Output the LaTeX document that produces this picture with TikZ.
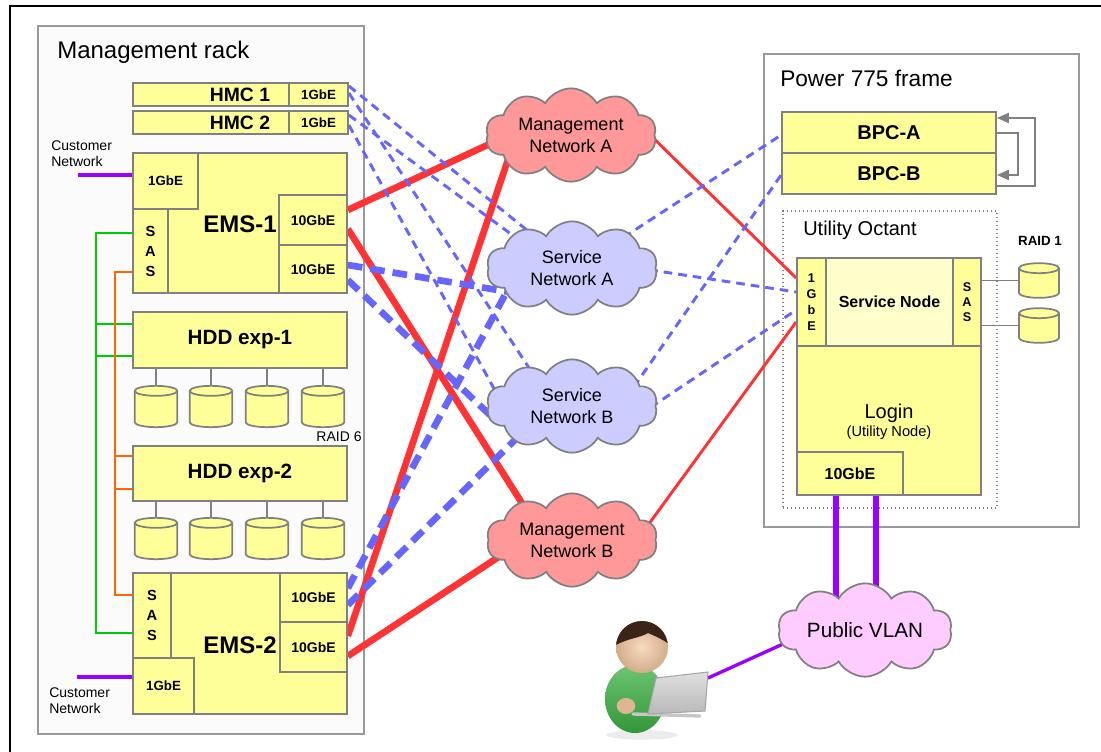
\documentclass[tikz,border=0pt]{standalone}
\usepackage{fontspec}
\setmainfont{Liberation Sans}
\usetikzlibrary{fit,shapes.symbols,arrows.meta,calc}

\definecolor{boxyellow}{HTML}{FFFF99}
\definecolor{paleyellow}{HTML}{FFFFCC}
\definecolor{edgegray}{HTML}{808080}
\definecolor{framegray}{HTML}{999999}
\definecolor{mgmtred}{HTML}{FF9999}
\definecolor{svcblue}{HTML}{CCCCFF}
\definecolor{vlanpink}{HTML}{FFCCFF}
\definecolor{linkred}{HTML}{FF3333}
\definecolor{linkblue}{HTML}{6666FF}
\definecolor{linkpurple}{HTML}{9900FF}
\definecolor{sasgreen}{HTML}{00CC00}
\definecolor{sasorange}{HTML}{FF6600}
\definecolor{skin}{HTML}{F6CBA3}
\definecolor{hair}{HTML}{3A2418}
\definecolor{shirt}{HTML}{3CB043}

\pgfdeclarelayer{bg}
\pgfdeclarelayer{wires}
\pgfsetlayers{bg,wires,main}

\newcommand{\fs}[2]{\fontsize{#1}{#2}\selectfont}

% hardware box given by its corners (x1,y1) (x2,y2) in pixel units
\newcommand{\hwbox}[7][]{%
  \pgfmathsetmacro{\hbcx}{(#3+#5)/2}%
  \pgfmathsetmacro{\hbcy}{(#4+#6)/2}%
  \node[box,#1,minimum width={(#5-#3)*0.75pt},minimum height={(#6-#4)*0.75pt}]
    (#2) at (\hbcx,\hbcy) {#7};}

% disk drum: name, x, y, half width, height
\newcommand{\drum}[5]{%
  \node[inner sep=0pt, outer sep=0pt, minimum width=2*#4, minimum height=#5] (#1) at (#2,#3) {};
  \path[fill=boxyellow, draw=edgegray, line width=1.3pt]
    ([yshift=-3.75pt]#1.north west) -- ([yshift=3.75pt]#1.south west)
    arc[start angle=180, end angle=360, x radius=#4, y radius=3.75pt]
    -- ([yshift=-3.75pt]#1.north east)
    arc[start angle=0, end angle=180, x radius=#4, y radius=3.75pt] -- cycle;
  \draw[edgegray, line width=1.3pt] ([yshift=-3.75pt]#1.north east)
    arc[start angle=0, end angle=-180, x radius=#4, y radius=3.75pt];}

\tikzset{
  box/.style={draw=edgegray, fill=boxyellow, line width=1.3pt, inner sep=0pt,
    align=center, font=\bfseries\fs{10.5}{12}},
  frame/.style={draw=framegray, line width=1.3pt, inner sep=0pt},
  lbl/.style={inner sep=0pt, align=center},
  net/.style={cloud, cloud puffs=10, cloud puff arc=120, cloud ignores aspect,
    draw=edgegray, line width=1.3pt, minimum width=128pt, minimum height=70pt,
    align=center, font=\fs{13.5}{16.5}},
  stub/.style={draw=edgegray, line width=1.3pt},
  mgmtlink/.style={linkred, line width=5pt, shorten >=-8pt},
  mgmtthin/.style={linkred, line width=2.2pt, shorten <=-8pt},
  svclink/.style={linkblue, line width=5pt, dash pattern=on 11pt off 6pt, shorten >=-8pt},
  svcthin/.style={linkblue, line width=2.2pt, dash pattern=on 6.5pt off 4.5pt},
  custlink/.style={linkpurple, line width=2.5pt},
  vlanlink/.style={linkpurple, line width=5pt},
  sasA/.style={sasgreen, line width=1.5pt},
  sasB/.style={sasorange, line width=1.5pt},
  bpcloop/.style={edgegray, line width=1.5pt, -{Triangle[length=9pt,width=7.5pt]}},
}

\begin{document}
\begin{tikzpicture}[x=0.75pt,y=-0.75pt]
\useasboundingbox (0,0) rectangle (1101,751);

% ---------- frames ----------
\begin{pgfonlayer}{bg}
  \fill[white] (0,0) rectangle (1101,751);
  \draw[black, line width=1pt] (10,770) -- (10,6) -- (1120,6);
  \node[frame, fill=gray!3, fit={(38,26) (364,734)}] (rack) {};
  \node[frame, fill=white, fit={(764,54) (1079,527)}] (p775) {};
  \node[draw=edgegray, line width=1pt, dotted, fit={(783,211) (997,508)}, inner sep=0pt] (octant) {};
\end{pgfonlayer}
\node[lbl, anchor=west, font=\fs{18}{20}] (racktitle) at (57,52) {Management rack};
\node[lbl, anchor=west, font=\fs{17}{19}] (p775title) at (780,78) {Power 775 frame};
\node[lbl, anchor=west, font=\fs{15}{17}] (octtitle) at (803,230) {Utility Octant};

% ---------- management rack ----------
\hwbox{hmc1}{133}{83}{289}{106}{}
\hwbox[font=\bfseries\fs{10}{11}]{h1g}{289}{83}{348}{106}{1GbE}
\node[lbl, font=\bfseries\fs{14.5}{16}] (hmc1t) at (240,95) {HMC 1};
\hwbox{hmc2}{133}{111}{289}{134}{}
\hwbox[font=\bfseries\fs{10}{11}]{h2g}{289}{111}{348}{134}{1GbE}
\node[lbl, font=\bfseries\fs{14.5}{16}] (hmc2t) at (240,123) {HMC 2};

\hwbox{ems1}{133}{153}{347}{293}{}
\hwbox[font=\bfseries\fs{10}{11}]{e1g}{133}{153}{198}{209}{1GbE}
\hwbox[font=\bfseries\fs{11}{15}]{e1s}{133}{209}{168}{293}{S\\A\\S}
\hwbox{e1a}{279}{195}{347}{245}{10GbE}
\hwbox{e1b}{279}{245}{347}{293}{10GbE}
\node[lbl, font=\bfseries\fs{18}{20}] (ems1t) at (240,224) {EMS-1};

\hwbox[font=\bfseries\fs{15.5}{17}]{hdd1}{133}{312}{347}{368}{HDD exp-1}
\hwbox[font=\bfseries\fs{15.5}{17}]{hdd2}{133}{446}{347}{501}{HDD exp-2}

\foreach \i/\x in {1/156,2/211,3/267,4/323}{
  \drum{da\i}{\x}{406.5}{16pt}{31pt}
  \drum{db\i}{\x}{538.5}{16pt}{31pt}
  \draw[stub] (da\i.north |- hdd1.south) -- (da\i.north);
  \draw[stub] (db\i.north |- hdd2.south) -- (db\i.north);
}
\node[lbl, font=\fs{10.5}{12}] (raid6) at (339,437) {RAID 6};

\hwbox{ems2}{133}{573}{347}{714}{}
\hwbox[font=\bfseries\fs{11}{15}]{e2s}{133}{573}{171}{658}{S\\A\\S}
\hwbox[font=\bfseries\fs{10}{11}]{e2g}{133}{658}{194}{714}{1GbE}
\hwbox{e2a}{280}{573}{347}{622}{10GbE}
\hwbox{e2b}{280}{622}{347}{672}{10GbE}
\node[lbl, font=\bfseries\fs{18}{20}] (ems2t) at (240,645) {EMS-2};

% customer network uplinks
\node[lbl, anchor=west, align=left, font=\fs{10.5}{12}] (cust1) at (51,154) {Customer\\Network};
\node[lbl, anchor=west, align=left, font=\fs{10.5}{12}] (cust2) at (49,701) {Customer\\Network};
\coordinate (cn1) at (78,175);
\coordinate (cn2) at (77,677);
\draw[custlink] (cn1) -- (cn1 -| e1g.west);
\draw[custlink] (cn2) -- (cn2 -| e2g.west);

% SAS cabling
\draw[sasA] ([yshift=13.5pt]e1s.west) -- ++(-36,0) |- ([yshift=-13.1pt]e2s.west);
\draw[sasA] ([yshift=12pt]hdd1.west) -- ++(-36,0);
\draw[sasA] ([yshift=-12pt]hdd1.west) -- ++(-36,0);
\draw[sasB] ([yshift=-15.75pt]e1s.west) -- ++(-17,0) |- ([yshift=15.4pt]e2s.west);
\draw[sasB] ([yshift=13pt]hdd2.west) -- ++(-17,0);
\draw[sasB] ([yshift=-11.6pt]hdd2.west) -- ++(-17,0);

% ---------- Power 775 frame ----------
\hwbox[font=\bfseries\fs{15}{17}]{bpca}{782}{112}{996}{153}{BPC-A}
\hwbox[font=\bfseries\fs{15}{17}]{bpcb}{782}{153}{996}{194}{BPC-B}
\draw[bpcloop] ([yshift=-9.4pt]bpcb.east) -- ++(38,0) |- ([yshift=10.9pt]bpca.east);
\draw[bpcloop] (bpca.east) -- ++(21,0) |- ([yshift=-1.1pt]bpcb.east);

\hwbox{login}{797}{258}{981}{495}{}
\hwbox[font=\bfseries\fs{9.5}{12}]{sn1g}{797}{258}{826}{346}{1\\G\\b\\E}
\hwbox[fill=paleyellow, font=\bfseries\fs{12}{14}]{snc}{826}{258}{953}{346}{Service Node}
\hwbox[font=\bfseries\fs{9.5}{11.5}]{sns}{953}{258}{981}{346}{S\\A\\S}
\hwbox[font=\bfseries\fs{12}{14}]{lg10}{797}{452}{903}{495}{10GbE}
\node[lbl, font=\fs{15}{17}] (logint) at (889,413) {Login};
\node[lbl, font=\fs{11}{13}] (loginsub) at (889,433) {(Utility Node)};

\node[lbl, font=\bfseries\fs{10}{12}] (raid1) at (1040,241) {RAID 1};
\drum{r1a}{1039}{280.5}{15pt}{26pt}
\drum{r1b}{1039}{325.5}{15pt}{26pt}
\draw[stub] (r1a.west -| sns.east) -- (r1a.west);
\draw[stub] (r1b.west -| sns.east) -- (r1b.west);

% ---------- networks ----------
\node[net, fill=mgmtred] (mga) at (571,135) {Management\\Network A};
\node[net, fill=svcblue] (sna) at (572,268) {Service\\Network A};
\node[net, fill=svcblue] (snb) at (572,406) {Service\\Network B};
\node[net, fill=mgmtred] (mgb) at (572,540) {Management\\Network B};
\node[net, fill=vlanpink, font=\fs{15.5}{17}] (vlan) at (865,630) {Public VLAN};

% ---------- user with laptop ----------
\fill[gray!15] (642,735) ellipse[x radius=27pt, y radius=3.5pt];
\shade[top color=shirt!75!white, bottom color=shirt!85!black] (635,699) ellipse[x radius=22.5pt, y radius=25.5pt];
\shade[inner color=skin!70!white, outer color=skin!85!black] (642,647) circle[radius=19.5pt];
\begin{scope}
  \clip (642,647) circle[radius=19.5pt];
  \fill[hair] (612,617) -- (672,617) -- (672,646)
    .. controls (664,640) and (655,636) .. (648,633)
    .. controls (640,638) and (628,638) .. (614,646) -- cycle;
\end{scope}
\fill[skin!90!black] (626,706) ellipse[x radius=7pt, y radius=6pt];
\draw[gray!45, line width=2.5pt, line cap=round] (633,714) -- (700,716);
\shade[top color=gray!25, bottom color=gray!55, draw=gray!70, line width=0.8pt]
  (656,678) -- (708,672) -- (705,711) -- (648,714) -- cycle;
\coordinate (laptop) at (708,678);

% ---------- links ----------
\begin{pgfonlayer}{wires}
  % management networks (10GbE and service node)
  \draw[mgmtlink] ([yshift=7.5pt]e1a.east) -- (mga.187);
  \draw[mgmtlink] ([yshift=-6.75pt]e1a.east) -- (mgb.143);
  \draw[mgmtlink] ([yshift=8.25pt]e2b.east) -- (mga.204);
  \draw[mgmtlink] ([yshift=-6.75pt]e2b.east) -- (mgb.194.6);
  \draw[mgmtthin] (mga.356.7) -- ([yshift=18pt]sn1g.west);
  \draw[mgmtthin] (mgb.13.9) -- ([yshift=-15pt]sn1g.west);
  % service networks, 10GbE
  \draw[svclink] ([yshift=3pt]e1b.east) -- (sna.199);
  \draw[svclink] ([yshift=-8.25pt]e1b.east) -- (snb.184);
  \draw[svclink] ([yshift=7pt]e2a.east) -- (sna.201.8);
  \draw[svclink] ([yshift=-5.6pt]e2a.east) -- (snb.211);
  % service networks, 1GbE
  \draw[svcthin, shorten >=-6pt] ([yshift=6.4pt]h1g.east) -- (sna.140);
  \draw[svcthin, shorten >=-6pt] ([yshift=1.1pt]h1g.east) -- (snb.138.7);
  \draw[svcthin, shorten >=-6pt] ([yshift=5.6pt]h2g.east) -- (sna.151.7);
  \draw[svcthin, shorten >=-6pt] ([yshift=-1.9pt]h2g.east) -- (snb.167.5);
  \draw[svcthin, shorten <=-6pt] (sna.31) -- ([yshift=-1.9pt]bpca.west);
  \draw[svcthin, shorten <=-6pt] (sna.358.7) -- ([yshift=7.5pt]sn1g.west);
  \draw[svcthin, shorten <=-6pt] (snb.21.5) -- ([yshift=-1.1pt]bpcb.west);
  \draw[svcthin, shorten <=-6pt] (snb.2.7) -- ([yshift=-6pt]sn1g.west);
  % public VLAN
  \draw[vlanlink] ($(lg10.south)+(-14,0)$) -- ($(lg10.south |- vlan.north)+(-14,18)$);
  \draw[vlanlink] ($(lg10.south)+(26,0)$) -- ($(lg10.south |- vlan.north)+(26,10)$);
  \draw[custlink, shorten >=-6pt] (laptop) -- (vlan.190.5);
\end{pgfonlayer}
\end{tikzpicture}
\end{document}
